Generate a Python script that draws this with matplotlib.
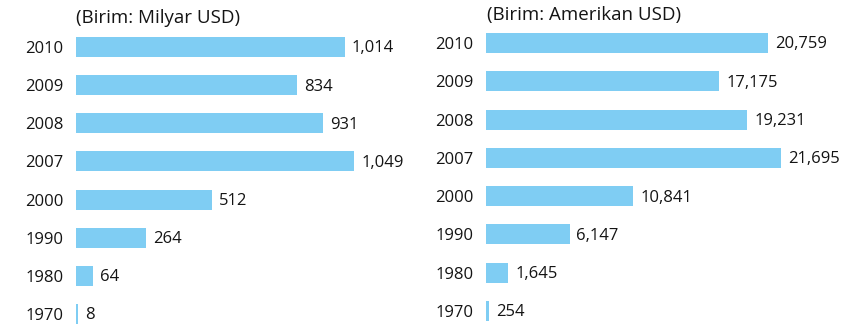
import matplotlib.pyplot as plt

# veriler
yillar = ["2010", "2009", "2008", "2007", "2000", "1990", "1980", "1970"]
milyar_usd = [1014, 834, 931, 1049, 512, 264, 64, 8]
kisi_basi_usd = [20759, 17175, 19231, 21695, 10841, 6147, 1645, 254]
baslik_sol = "(Birim: Milyar USD)"
baslik_sag = "(Birim: Amerikan USD)"

plt.rcParams['font.family'] = ['Open Sans', 'DejaVu Sans']

W, H = 856, 326
RENK = '#7fcdf3'
YAZI = '#141414'

fig = plt.figure(figsize=(W / 100, H / 100), dpi=100)


def panel(sol_px, gen_px, ilk_px, son_px, xmax, degerler, baslik, bx, by):
    # eksen tum yukseklik boyunca, satirlar piksele gore yerlesiyor
    ax = fig.add_axes([sol_px / W, 0, gen_px / W, 1])
    s = (son_px - ilk_px) / (len(yillar) - 1)
    y = list(range(len(yillar)))
    ax.barh(y, degerler, height=20 / s, color=RENK, edgecolor='none')
    ax.set_xlim(0, xmax)
    ax.set_ylim((H - ilk_px) / s, -ilk_px / s)
    for i, v in enumerate(degerler):
        ax.annotate(f"{v:,}", (v, i), xytext=(5, -1), textcoords='offset points',
                    ha='left', va='center', fontsize=12, color=YAZI)
    ax.set_yticks(y)
    ax.set_yticklabels(yillar, fontsize=12, color=YAZI)
    ax.tick_params(axis='y', length=0, pad=9)
    ax.set_xticks([])
    for sp in ax.spines.values():
        sp.set_visible(False)
    fig.text(bx / W, 1 - by / H, baslik, fontsize=13.5, color=YAZI,
             ha='left', va='center')
    return ax


panel(76, 300, 47, 314, 1014 * 300 / 269, milyar_usd, baslik_sol, 76, 18)
panel(486, 340, 43, 311, 20759 * 340 / 282, kisi_basi_usd, baslik_sag, 487, 15)

fig.savefig("out.png", dpi=100, facecolor='white')
